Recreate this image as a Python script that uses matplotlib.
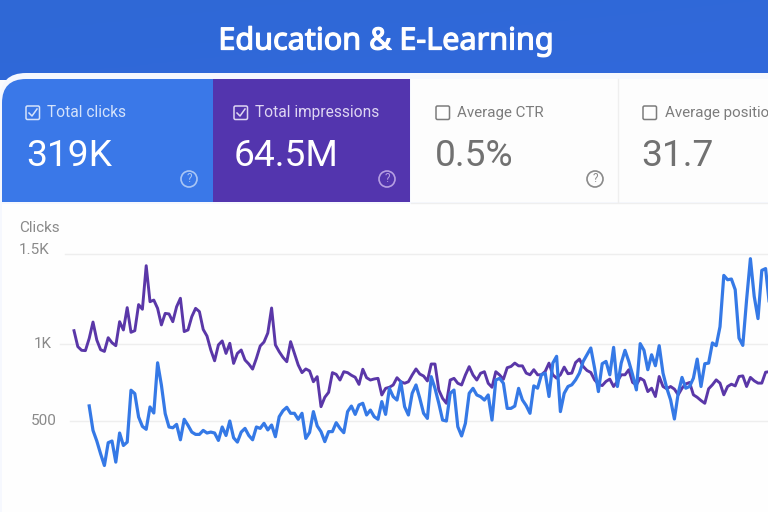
import numpy as np
import matplotlib
matplotlib.use("Agg")
import matplotlib.pyplot as plt
import matplotlib.patheffects as pe
from matplotlib.patches import FancyBboxPatch, Circle, Rectangle
from matplotlib.transforms import blended_transform_factory
from matplotlib.colors import LinearSegmentedColormap

plt.rcParams['font.family'] = ['Roboto', 'DejaVu Sans']

TITLE = "Education & E-Learning"
CARD_LABELS = ["Total clicks", "Total impressions", "Average CTR", "Average position"]
CARD_VALUES = ["319K", "64.5M", "0.5%", "31.7"]
Y_TICKS = [500, 1000, 1500]
Y_LABELS = ["500", "1K", "1.5K"]

impressions = [1074,983,959,957,1031,1122,1022,963,952,1035,1007,989,1124,1078,1202,1065,1074,1219,1193,1435,
 1235,1244,1198,1106,1170,1167,1124,1207,1254,1069,1078,1152,1198,1180,1081,1044,961,891,994,1017,
 939,1004,874,939,961,896,870,837,907,987,1011,1061,1200,994,950,913,885,1013,939,864,
 814,838,825,755,788,593,654,686,814,803,766,820,814,797,784,738,836,781,766,773,
 777,669,712,719,734,781,755,745,755,799,838,805,792,760,870,870,701,647,615,766,
 777,745,734,799,853,799,766,810,820,745,719,820,799,771,846,854,876,858,858,811,
 800,833,800,800,822,876,800,778,800,850,807,811,880,902,854,828,815,767,739,730,
 757,772,724,757,800,800,833,750,735,778,763,691,713,659,789,724,709,724,707,670,
 713,741,750,670,654,633,615,709,735,767,746,670,724,739,728,789,793,724,783,761,
 746,746,817,820]

clicks = [None,None,None,None,598,439,370,287,211,359,370,233,422,341,363,700,678,526,465,446,
 591,552,878,733,548,461,456,478,378,511,472,428,413,413,439,422,428,422,374,461,
 406,500,391,363,428,452,406,378,461,452,485,442,474,398,528,567,589,550,550,511,
 550,387,426,561,468,431,366,431,431,489,452,424,561,597,543,604,615,539,571,528,
 511,626,543,712,658,636,755,593,539,680,734,647,550,517,788,712,615,506,500,680,
 701,463,403,485,680,712,669,658,636,669,506,766,777,745,582,582,597,712,637,600,
 550,728,713,800,811,659,876,920,561,680,724,735,767,811,887,930,974,843,691,872,
 887,800,978,724,876,959,887,800,702,1002,959,833,930,859,989,811,713,637,513,680,
 783,713,724,778,902,724,872,876,1006,989,1096,1381,1357,1361,1302,1033,991,1246,1474,1265,
 1141,1409,1419,1219]

BLUE = "#3579e6"
PURPLE = "#5a37a8"
GREY = "#8a8a8a"

fig = plt.figure(figsize=(7.68, 5.12), dpi=100, facecolor="#fbfbfe")
bg = fig.add_axes([0, 0, 1, 1])
bg.set_xlim(0, 768); bg.set_ylim(512, 0); bg.axis("off")

def grad(c1, c2, extent, z):
    cm = LinearSegmentedColormap.from_list("g", [c1, c2])
    xx, yy = np.meshgrid(np.linspace(0, 1, 32), np.linspace(0, 1, 32))
    bg.imshow((xx + yy) / 2, cmap=cm, extent=extent, aspect="auto", zorder=z, vmin=0, vmax=1)

grad("#2f68d6", "#3169db", (0, 768, 80, 0), 1)
bg.add_patch(FancyBboxPatch((0, 73), 900, 500, boxstyle="round,pad=0,rounding_size=26", lw=0, fc="#f6f8fe", zorder=2))
bg.add_patch(Rectangle((2, 204), 766, 308, lw=0, fc="#fefefe", zorder=2.1))
bg.add_patch(Rectangle((411, 79), 357, 123, lw=0, fc="#fdfdfd", zorder=2.1))
bg.add_patch(FancyBboxPatch((2, 79), 211, 123, boxstyle="round,pad=0,rounding_size=24", lw=0, fc="#3a78e8", zorder=3))
bg.add_patch(Rectangle((190, 79), 23, 123, lw=0, fc="#3a78e8", zorder=3))
bg.add_patch(Rectangle((2, 110), 40, 92, lw=0, fc="#3a78e8", zorder=3))
bg.add_patch(Rectangle((213, 79), 197, 123, lw=0, fc="#5335ae", zorder=3))
bg.plot([617.5, 617.5], [79, 202], color="#efefef", lw=1, zorder=3)
bg.plot([411, 768], [202.5, 202.5], color="#efefef", lw=1, zorder=3)

bg.text(386, 38, TITLE, color="white", fontsize=22, ha="center", va="center_baseline",
        family=["Noto Sans", "DejaVu Sans"], zorder=5,
        path_effects=[pe.withStroke(linewidth=0.9, foreground="white")])

cards = [(26, 47, 26, "#d5e3fb", "white", 189, "#a9c6f5", True, 11.2),
         (234, 255, 234, "#ded6f2", "white", 387, "#b69fe2", True, 11.2),
         (436, 457, 435, "#7c7c7c", "#717171", 595, "#8a8a8a", False, 10.9),
         (643, 665, 641, "#7c7c7c", "#717171", None, None, False, 10.9)]
for (bx, tx, vx, lc, vc, qx, qc, chk, fs), lab, val in zip(cards, CARD_LABELS, CARD_VALUES):
    bg.add_patch(FancyBboxPatch((bx, 106), 13.5, 13.5, boxstyle="round,pad=0,rounding_size=1.5",
                                lw=1.1, ec=lc, fc="none", zorder=5))
    if chk:
        bg.plot([bx + 3, bx + 6, bx + 11], [113, 116, 109], color=lc, lw=1.1, zorder=5)
    bg.text(tx, 112.5, lab, color=lc, fontsize=fs, ha="left", va="center", zorder=5)
    bg.text(vx, 152, val, color=vc, fontsize=26.7, ha="left", va="center_baseline", zorder=5)
    if qx:
        bg.add_patch(Circle((qx, 179), 8, lw=1.2, ec=qc, fc="none", zorder=5))
        bg.text(qx, 179, "?", color=qc, fontsize=8.5, ha="center", va="center", zorder=5)

def forward(v):
    v = np.asarray(v, dtype=float)
    return np.where(v >= 1000, 344 - (v - 1000) * 90 / 500, 344 + (1000 - v) * 77 / 500) * -1

def inverse(p):
    y = -np.asarray(p, dtype=float)
    return np.where(y <= 344, 1000 + (344 - y) * 500 / 90, 1000 - (y - 344) * 500 / 77)

ax = fig.add_axes([0, 0, 1, 308 / 512])
ax.patch.set_alpha(0)
ax.set_yscale("function", functions=(forward, inverse))
ax.set_xlim(-74 / 3.8, (768 - 74) / 3.8)
ax.set_ylim(float(inverse(-512)), float(inverse(-204)))
for s in ax.spines.values():
    s.set_visible(False)
ax.set_xticks([]); ax.set_yticks([])

tr = blended_transform_factory(bg.transData, ax.transData)
for v, lab, x0, xr in zip(Y_TICKS, Y_LABELS, [70, 60, 65], [57, 52, 50]):
    ax.plot([x0, 768], [v, v], transform=tr, color="#eeeeee", lw=1, zorder=1)
    ax.text(xr, v + (25 if v == 1500 else 0), lab, transform=tr, color=GREY, fontsize=11, ha="right", va="center")
bg.text(19, 228.5, "Clicks", color=GREY, fontsize=11, ha="left", va="center", zorder=5)

idx = np.arange(len(impressions))
ax.plot(idx, impressions, color=PURPLE, lw=2.1, solid_joinstyle="round", zorder=3)
ax.plot(idx, [np.nan if c is None else c for c in clicks], color=BLUE, lw=2.3, solid_joinstyle="round", zorder=4)

fig.savefig("out.png", dpi=100, facecolor=fig.get_facecolor())
